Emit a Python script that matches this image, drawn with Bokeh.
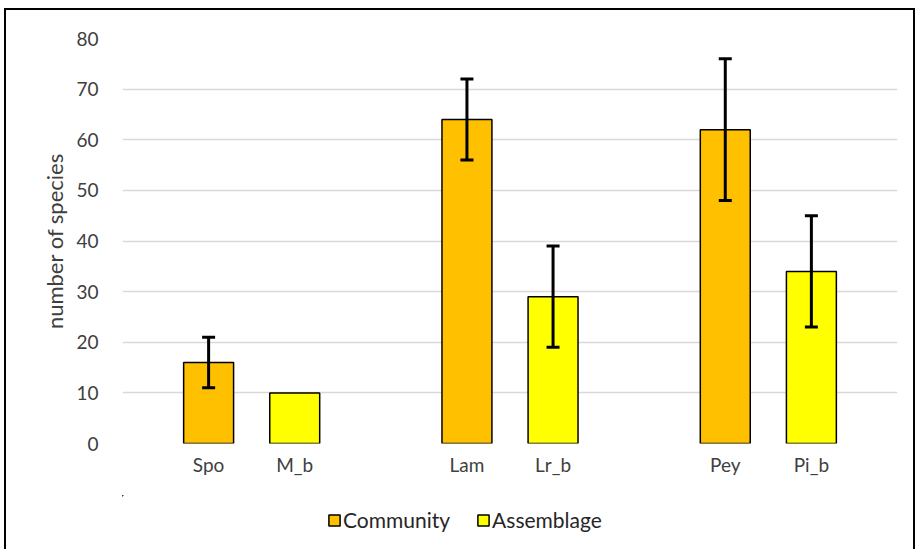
from bokeh.plotting import figure
from bokeh.layouts import column
from bokeh.models import ColumnDataSource, Whisker, TeeHead, Legend, LegendItem, FixedTicker, Range1d
from bokeh.embed import file_html
from bokeh.resources import INLINE

# Data
labels = ["Spo", "M_b", "Lam", "Lr_b", "Pey", "Pi_b"]
slots = [1, 2, 4, 5, 7, 8]          # category slot positions (gaps between sites)
series = ["Community", "Assemblage", "Community", "Assemblage", "Community", "Assemblage"]
values = [16, 10, 64, 29, 62, 34]
err_low = [11, None, 56, 19, 48, 23]
err_high = [21, None, 72, 39, 76, 45]
y_ticks = [0, 10, 20, 30, 40, 50, 60, 70, 80]
series_names = ["Community", "Assemblage"]

colors = {"Community": "#FFC000", "Assemblage": "#FFFF00"}
FONT = "Lato"
TXT = "#404040"
BORDER = "2px solid black"

p = figure(width=911, height=487, output_backend="svg", toolbar_location=None,
           x_range=Range1d(0, 9), y_range=Range1d(0, 80),
           min_border_left=116, min_border_right=20, min_border_top=28, min_border_bottom=54)
p.styles = {"border-top": BORDER, "border-left": BORDER, "border-right": BORDER}

sources = {}
for s in series_names:
    idx = [i for i, v in enumerate(series) if v == s]
    sources[s] = ColumnDataSource(dict(x=[slots[i] for i in idx], top=[values[i] for i in idx]))
    p.vbar(x="x", top="top", width=0.58, source=sources[s], fill_color=colors[s],
           line_color="black", line_width=1.5)

idx = [i for i in range(len(labels)) if err_low[i] is not None]
esrc = ColumnDataSource(dict(x=[slots[i] for i in idx], lo=[err_low[i] for i in idx],
                             hi=[err_high[i] for i in idx]))
w = Whisker(base="x", lower="lo", upper="hi", source=esrc, line_width=3, line_color="black",
            upper_head=TeeHead(size=13, line_width=3, line_color="black"),
            lower_head=TeeHead(size=13, line_width=3, line_color="black"), level="overlay")
p.add_layout(w)

p.outline_line_color = None
p.xgrid.grid_line_color = None
p.ygrid.grid_line_color = "#D9D9D9"
p.ygrid.grid_line_width = 1.5
p.ygrid.ticker = FixedTicker(ticks=y_ticks)

p.yaxis.ticker = FixedTicker(ticks=y_ticks)
p.yaxis.axis_line_color = None
p.yaxis.major_tick_line_color = None
p.yaxis.minor_tick_line_color = None
p.yaxis.major_label_standoff = 18
p.yaxis.major_label_text_font = FONT
p.yaxis.major_label_text_font_size = "19px"
p.yaxis.major_label_text_color = TXT
p.yaxis.axis_label = "number of species"
p.yaxis.axis_label_text_font = FONT
p.yaxis.axis_label_text_font_size = "22px"
p.yaxis.axis_label_text_font_style = "normal"
p.yaxis.axis_label_text_color = TXT
p.yaxis.axis_label_standoff = 5

p.xaxis.ticker = FixedTicker(ticks=slots)
p.xaxis.major_label_overrides = {s: l for s, l in zip(slots, labels)}
p.xaxis.axis_line_color = None
p.xaxis.major_tick_line_color = None
p.xaxis.minor_tick_line_color = None
p.xaxis.major_label_standoff = 3
p.xaxis.major_label_text_font = FONT
p.xaxis.major_label_text_font_size = "19px"
p.xaxis.major_label_text_color = TXT

# Legend strip below the chart (same series, bars kept out of view)
lf = figure(width=911, height=54, output_backend="svg", toolbar_location=None,
            x_range=Range1d(100, 109), y_range=Range1d(-2000, -1990),
            x_axis_type=None, y_axis_type=None,
            min_border_left=0, min_border_right=0, min_border_top=0, min_border_bottom=0)
lf.styles = {"border-left": BORDER, "border-right": BORDER}
lf.outline_line_color = None
lf.xgrid.grid_line_color = None
lf.ygrid.grid_line_color = None
leg_r = {}
for s in series_names:
    leg_r[s] = lf.vbar(x="x", top="top", width=0.58, source=sources[s], fill_color=colors[s],
                       line_color="black", line_width=1.5)

legend = Legend(items=[LegendItem(label=s, renderers=[leg_r[s]]) for s in series_names],
                orientation="horizontal", location=(205, 17),
                label_text_font=FONT, label_text_font_size="21px", label_text_color="#262626",
                glyph_width=14, glyph_height=14, label_standoff=2, spacing=26,
                border_line_color=None, background_fill_alpha=0, margin=0, padding=0)
lf.add_layout(legend, "center")

layout = column(p, lf, spacing=0)
layout.styles = {"margin-left": "4px", "margin-top": "8px"}

open("out.html", "w").write(file_html(layout, INLINE))
